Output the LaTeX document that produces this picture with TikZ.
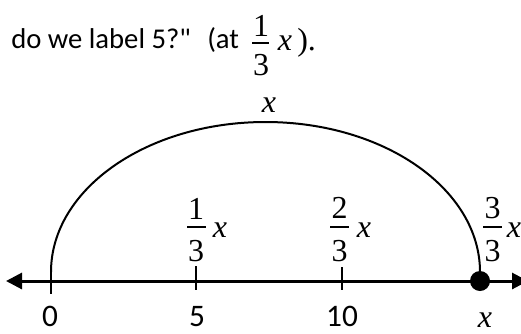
\documentclass[tikz,border=0pt]{standalone}
\usepackage{fontspec}
\setmainfont{Liberation Serif}
\newfontfamily\sansf{Carlito}
\newfontfamily\serf{Liberation Serif}
\usetikzlibrary{arrows.meta}
\begin{document}
\begin{tikzpicture}[x=0.75pt,y=0.75pt,
  lbl/.style={inner sep=0pt,anchor=base,font=\sansf\fontsize{23.5}{28}\selectfont},
  toptext/.style={inner sep=0pt,anchor=base west,font=\sansf\fontsize{21.5}{26}\selectfont},
  dig/.style={inner sep=0pt,anchor=base,font=\serf\fontsize{24}{28}\selectfont},
  var/.style={inner sep=0pt,anchor=base,font=\serf\itshape\fontsize{24}{28}\selectfont},
  fbar/.style={line width=0.9pt},
  tickmark/.style={line width=1.5pt},
  numline/.style={line width=2.25pt,{Triangle[length=12pt,width=12pt]}-{Triangle[length=12pt,width=12pt]}}]
\useasboundingbox (0,0) rectangle (521,-333);
\clip (0,0) rectangle (521,-333);
% top text
\node[toptext] (t1) at (11,-48) {do we label 5?"};
\node[toptext] (t2) at (207,-48) {(at};
\node[dig] (tn) at (261,-36) {1};
\node[dig] (td) at (261,-75) {3};
\draw[fbar] (252,-43) -- (269,-43);
\node[var] (tx) at (285,-50) {x};
\node[dig,anchor=base west] (tp) at (297,-50) {).};
% number line
\coordinate (L) at (6,-281);
\coordinate (R) at (528,-281);
\draw[numline] (L) -- (R);
% ticks
\coordinate (z0) at (51,-281);
\coordinate (z5) at (196,-281);
\coordinate (z10) at (342,-281);
\coordinate (zx) at (480,-281);
\draw[tickmark] ([yshift=7pt]z0) -- ([yshift=-9.75pt]z0);
\draw[tickmark] ([yshift=11.25pt]z5) -- ([yshift=-6.75pt]z5);
\draw[tickmark] ([yshift=10.5pt]z10) -- ([yshift=-6.75pt]z10);
% arc
\draw[line width=1.5pt] (51,-272) arc[start angle=180,end angle=0,x radius=160.875pt,y radius=112.5pt];
\node[var] (ax) at (269,-112) {x};
% dot
\fill (zx) circle[radius=7.5pt];
% fractions on the line
\node[dig] (n1) at (196,-219) {1};
\node[dig] (d1) at (196,-261) {3};
\draw[fbar] (187,-227) -- (206,-227);
\node[var] (x1) at (220,-237) {x};
\node[dig] (n2) at (339.5,-218) {2};
\node[dig] (d2) at (339.5,-261) {3};
\draw[fbar] (330,-227) -- (349,-227);
\node[var] (x2) at (364,-237) {x};
\node[dig] (n3) at (492.5,-218) {3};
\node[dig] (d3) at (492.5,-261) {3};
\draw[fbar] (483,-227) -- (502,-227);
\node[var] (x3) at (514,-237) {x};
% labels below
\node[lbl] (b0) at (50,-326) {0};
\node[lbl] (b5) at (197,-326) {5};
\node[lbl] (b10) at (342,-326) {10};
\node[var] (bx) at (485,-327) {x};
\end{tikzpicture}
\end{document}
